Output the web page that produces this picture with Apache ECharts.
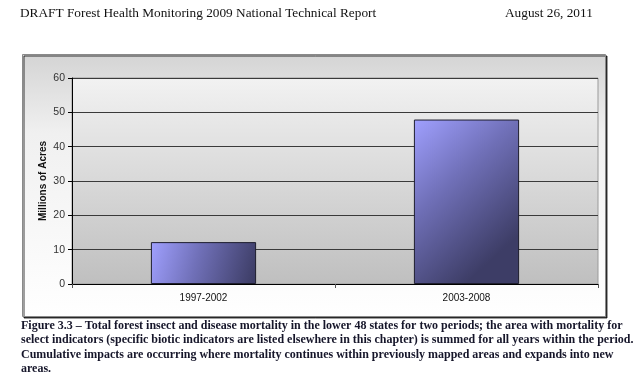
<!DOCTYPE html>
<html><head><meta charset="utf-8">
<script src="https://cdn.jsdelivr.net/npm/echarts@6/dist/echarts.min.js"></script>
<style>html,body{margin:0;padding:0;background:#fff}#c{width:640px;height:386px}</style>
</head><body><div id="c"></div>
<script>
const categories = ['1997-2002', '2003-2008'];
const acres = [12.2, 47.9];
const yMin = 0, yMax = 60, yStep = 10;
const headerLeft = 'DRAFT Forest Health Monitoring 2009 National Technical Report';
const headerRight = 'August 26, 2011';
const yTitle = 'Millions of Acres';
const captionLines = [
  'Figure 3.3 \u2013 Total forest insect and disease mortality in the lower 48 states for two periods; the area with mortality for',
  'select indicators (specific biotic indicators are listed elsewhere in this chapter) is summed for all years within the period.',
  'Cumulative impacts are occurring where mortality continues within previously mapped areas and expands into new',
  'areas.'
];

const chart = echarts.init(document.getElementById('c'), null, {renderer: 'canvas'});
const serif = '"Liberation Serif", "DejaVu Serif", serif';
const sans = 'Arial, "Liberation Sans", sans-serif';
const graphics = [
  {type: 'rect', z: -10, shape: {x: 22.5, y: 54.5, width: 583, height: 262},
   style: {fill: new echarts.graphic.LinearGradient(0, 0, 0, 1, [{offset: 0, color: '#d4d4d4'}, {offset: 0.3, color: '#f0f0f0'}, {offset: 1, color: '#ffffff'}]),
           stroke: '#8a8a8a', lineWidth: 1, shadowColor: 'rgba(0,0,0,0.75)', shadowOffsetX: 1.5, shadowOffsetY: 1.5, shadowBlur: 0}},
  {type: 'text', left: 20, top: 7, style: {text: headerLeft, font: '13.3px ' + serif, fill: '#111'}},
  {type: 'text', left: 505, top: 7, style: {text: headerRight, font: '13.3px ' + serif, fill: '#111'}}
];
captionLines.forEach((t, i) => {
  graphics.push({type: 'text', left: 21, top: 320 + i * 14.3, style: {text: t, font: 'bold 12px ' + serif, fill: '#16162a'}});
});

chart.setOption({
  animation: false,
  graphic: graphics,
  grid: {left: 72, top: 78, right: 42, bottom: 102, show: true,
         backgroundColor: new echarts.graphic.LinearGradient(0, 0, 0, 1, [{offset: 0, color: '#f2f2f2'}, {offset: 1, color: '#bfbfbf'}]),
         borderColor: '#9a9a9a', borderWidth: 1},
  xAxis: {
    type: 'category', data: categories,
    axisLine: {lineStyle: {color: '#000', width: 1}},
    axisTick: {show: true, alignWithLabel: false, length: 4, lineStyle: {color: '#555'}},
    axisLabel: {color: '#111', fontFamily: sans, fontSize: 10, margin: 9},
    splitLine: {show: false}
  },
  yAxis: {
    type: 'value', min: yMin, max: yMax, interval: yStep,
    name: yTitle, nameLocation: 'middle', nameGap: 24, nameRotate: 90, nameMoveOverlap: false,
    nameTextStyle: {fontFamily: sans, fontWeight: 'bold', fontSize: 10, color: '#111'},
    axisLine: {show: true, lineStyle: {color: '#000', width: 1}},
    axisTick: {show: true, length: 4, lineStyle: {color: '#000'}},
    axisLabel: {color: '#333', fontFamily: sans, fontSize: 10.5, margin: 7},
    splitLine: {show: true, lineStyle: {color: '#3a3a3a', width: 1}}
  },
  series: [{
    type: 'bar', data: acres, barWidth: '40%',
    itemStyle: {
      color: new echarts.graphic.LinearGradient(0, 0, 1, 0.7, [
        {offset: 0, color: '#a0a0ff'},
        {offset: 0.45, color: '#7070b8'},
        {offset: 1, color: '#3d3d66'}
      ]),
      borderColor: '#1e1e2e', borderWidth: 1
    }
  }]
});
</script></body></html>
